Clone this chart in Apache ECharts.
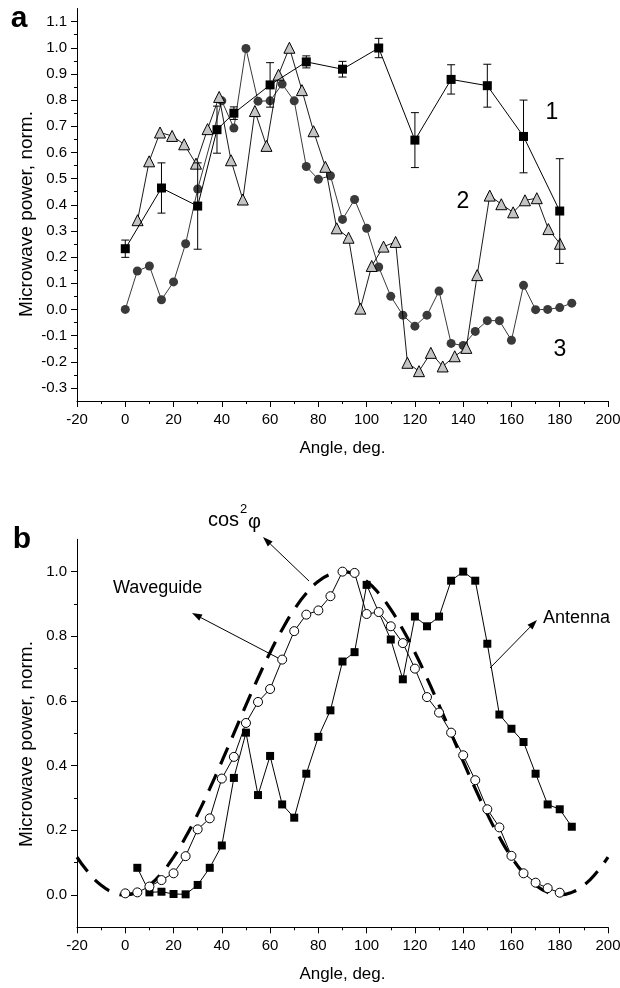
<!DOCTYPE html>
<html><head><meta charset="utf-8">
<script src="https://cdn.jsdelivr.net/npm/echarts@6/dist/echarts.min.js"></script>
<style>html,body{margin:0;padding:0;background:#fff}#c{width:620px;height:988px}</style>
</head><body><div id="c"></div>
<script>
// ---------- Panel a data ----------
const s1X = [0,15,30,38,45,60,75,90,105,120,135,150,165,180];
const s1Y = [0.232,0.464,0.395,0.687,0.750,0.858,0.946,0.918,0.999,0.647,0.879,0.855,0.661,0.376];
const s1Err = [0.033,0.096,0.165,0.090,0.024,0.085,0.023,0.030,0.037,0.105,0.056,0.082,0.139,0.200];

const s2X = [5.1,9.9,14.4,19.4,24.4,29.3,34.1,38.9,43.8,48.7,53.7,58.5,63.5,68.0,73.2,78.0,82.9,87.6,92.5,97.4,102.1,107.0,112.0,116.9,121.7,126.6,131.5,136.5,141.3,145.8,151.0,155.8,160.7,165.6,170.5,175.3,180.1];
const s2Y = [0.341,0.566,0.676,0.663,0.631,0.557,0.689,0.812,0.570,0.420,0.758,0.625,0.897,1.000,0.838,0.681,0.545,0.310,0.274,0.003,0.166,0.240,0.258,-0.204,-0.236,-0.166,-0.218,-0.179,-0.147,0.131,0.435,0.402,0.371,0.417,0.425,0.307,0.251];

const s3X = [0,5,10,15,20,25,30,40,45,50,55,60,65,70,75,80,85,90,95,100,105,110,115,120,125,130,135,140,145,150,155,160,165,170,175,180,185];
const s3Y = [0.000,0.147,0.166,0.037,0.105,0.251,0.460,0.797,0.693,0.997,0.796,0.797,0.861,0.797,0.546,0.497,0.511,0.344,0.420,0.310,0.162,0.050,-0.022,-0.064,-0.022,0.070,-0.130,-0.138,-0.084,-0.043,-0.043,-0.118,0.092,-0.001,0.000,0.007,0.024];

// ---------- Panel b data ----------
const wgX = [0,5,10,15,20,25,30,35,40,45,50,55,60,65,70,75,80,85,90,95,100,105,110,115,120,125,130,135,140,145,150,155,160,165,170,175,180];
const wgY = [0.005,0.008,0.026,0.046,0.067,0.120,0.203,0.237,0.360,0.427,0.532,0.597,0.637,0.728,0.816,0.867,0.880,0.924,1.000,0.996,0.869,0.875,0.831,0.779,0.700,0.612,0.564,0.502,0.432,0.355,0.265,0.209,0.121,0.067,0.038,0.021,0.007];

const antX = [5,10,15,20,25,30,35,40,45,50,55,60,65,70,75,80,85,90,95,100,110,115,120,125,130,135,140,145,150,155,160,165,170,175,180,185];
const antY = [0.084,0.008,0.010,0.003,0.002,0.031,0.084,0.153,0.362,0.502,0.309,0.430,0.280,0.239,0.375,0.489,0.571,0.722,0.751,0.959,0.790,0.667,0.861,0.831,0.861,0.972,1.000,0.972,0.777,0.558,0.514,0.473,0.375,0.280,0.265,0.211];

const cosX = [-20,-15,-10,-5,0,5,10,15,20,25,30,35,40,45,50,55,60,65,70,75,80,85,90,95,100,105,110,115,120,125,130,135,140,145,150,155,160,165,170,175,180,185,190,195,200];
const cosY = [0.117,0.067,0.030,0.008,0.000,0.008,0.030,0.067,0.117,0.179,0.250,0.329,0.413,0.500,0.587,0.671,0.750,0.821,0.883,0.933,0.970,0.992,1.000,0.992,0.970,0.933,0.883,0.821,0.750,0.671,0.587,0.500,0.413,0.329,0.250,0.179,0.117,0.067,0.030,0.008,0.000,0.008,0.030,0.067,0.117];

// ---------- Tick labels ----------
const xTickLabels = [-20,0,20,40,60,80,100,120,140,160,180,200];
const yTicksA = [-0.3,-0.2,-0.1,0,0.1,0.2,0.3,0.4,0.5,0.6,0.7,0.8,0.9,1.0,1.1];
const yMinorA = [-0.25,-0.15,-0.05,0.05,0.15,0.25,0.35,0.45,0.55,0.65,0.75,0.85,0.95,1.05];
const yTicksB = [0,0.2,0.4,0.6,0.8,1.0];
const yMinorB = [0.1,0.3,0.5,0.7,0.9];

const FONT = '"Liberation Sans", Arial, sans-serif';
const zip = (xs, ys) => xs.map((x, i) => [x, ys[i]]);

function xAxisCfg(gi) {
  return {
    type: 'value', gridIndex: gi, min: xTickLabels[0], max: xTickLabels[xTickLabels.length - 1], interval: 20,
    axisLine: { show: true, onZero: false, lineStyle: { color: '#000', width: 1 } },
    axisTick: { show: true, length: 6, lineStyle: { color: '#000', width: 1 } },
    minorTick: { show: true, splitNumber: 2, length: 3, lineStyle: { color: '#000', width: 1 } },
    axisLabel: { color: '#000', fontSize: 15, fontFamily: FONT, margin: 11 },
    splitLine: { show: false }, minorSplitLine: { show: false },
    name: 'Angle, deg.', nameLocation: 'middle', nameGap: 39,
    nameTextStyle: { color: '#000', fontSize: 17, fontFamily: FONT }
  };
}
function yAxisMain(gi, min, max, ticks) {
  return {
    type: 'value', gridIndex: gi, min: min, max: max, position: 'left',
    axisLine: { show: true, onZero: false, lineStyle: { color: '#000', width: 1 } },
    axisTick: { show: true, length: 6, customValues: ticks, lineStyle: { color: '#000', width: 1 } },
    axisLabel: { show: true, customValues: ticks, formatter: v => Number(v).toFixed(1), color: '#000', fontSize: 15, fontFamily: FONT, margin: 10 },
    splitLine: { show: false }
  };
}
function yAxisMinor(gi, min, max, ticks) {
  return {
    type: 'value', gridIndex: gi, min: min, max: max, position: 'left',
    axisLine: { show: false, onZero: false },
    axisTick: { show: true, length: 3, customValues: ticks, lineStyle: { color: '#000', width: 1 } },
    axisLabel: { show: false },
    splitLine: { show: false }
  };
}

function errRender(params, api) {
  const x = api.value(0), y = api.value(1), e = api.value(2);
  const top = api.coord([x, y + e]);
  const bot = api.coord([x, y - e]);
  const w = 4;
  const st = { stroke: '#000', lineWidth: 1 };
  return {
    type: 'group',
    children: [
      { type: 'line', shape: { x1: top[0], y1: top[1], x2: bot[0], y2: bot[1] }, style: st },
      { type: 'line', shape: { x1: top[0] - w, y1: top[1], x2: top[0] + w, y2: top[1] }, style: st },
      { type: 'line', shape: { x1: bot[0] - w, y1: bot[1], x2: bot[0] + w, y2: bot[1] }, style: st }
    ]
  };
}

function arrow(x1, y1, x2, y2) {
  const ang = Math.atan2(y2 - y1, x2 - x1);
  const L = 10, W = 3.5;
  const bx = x2 - L * Math.cos(ang), by = y2 - L * Math.sin(ang);
  const px = -Math.sin(ang) * W, py = Math.cos(ang) * W;
  return {
    type: 'group', silent: true,
    children: [
      { type: 'line', shape: { x1: x1, y1: y1, x2: bx, y2: by }, style: { stroke: '#000', lineWidth: 1 } },
      { type: 'polygon', shape: { points: [[x2, y2], [bx + px, by + py], [bx - px, by - py]] }, style: { fill: '#000' } }
    ]
  };
}
function txtStyle(t, x, y, size, extra, rot) {
  return { type: 'text', x: x, y: y, rotation: rot || 0, silent: true,
    style: Object.assign({ text: t, fill: '#000', fontSize: size, fontFamily: FONT, align: 'center', verticalAlign: 'middle' }, extra || {}) };
}

const chart = echarts.init(document.getElementById('c'), null, { renderer: 'canvas' });
chart.setOption({
  animation: false,
  backgroundColor: '#fff',
  textStyle: { fontFamily: FONT },
  grid: [
    { left: 77, top: 8.5, width: 531, height: 392.5, containLabel: false, outerBoundsMode: 'none' },
    { left: 77, top: 539.3, width: 531, height: 388, containLabel: false, outerBoundsMode: 'none' }
  ],
  xAxis: [xAxisCfg(0), xAxisCfg(1)],
  yAxis: [
    yAxisMain(0, -0.35, 1.15, yTicksA),
    yAxisMinor(0, -0.35, 1.15, yMinorA),
    yAxisMain(1, -0.1, 1.1, yTicksB),
    yAxisMinor(1, -0.1, 1.1, yMinorB)
  ],
  series: [
    { name: '3', type: 'line', xAxisIndex: 0, yAxisIndex: 0, data: zip(s3X, s3Y), z: 2,
      symbol: 'circle', symbolSize: 9, showSymbol: true,
      itemStyle: { color: '#3a3a3a', borderWidth: 0 }, lineStyle: { color: '#3a3a3a', width: 1 } },
    { name: '2', type: 'line', xAxisIndex: 0, yAxisIndex: 0, data: zip(s2X, s2Y), z: 3,
      symbol: 'triangle', symbolSize: 11, showSymbol: true,
      itemStyle: { color: '#c4c4c4', borderColor: '#000', borderWidth: 1 }, lineStyle: { color: '#000', width: 0.9 } },
    { name: '1', type: 'line', xAxisIndex: 0, yAxisIndex: 0, data: zip(s1X, s1Y), z: 5,
      symbol: 'rect', symbolSize: 9, showSymbol: true,
      itemStyle: { color: '#000' }, lineStyle: { color: '#000', width: 1 } },
    { name: 'err', type: 'custom', xAxisIndex: 0, yAxisIndex: 0, z: 4,
      data: s1X.map((x, i) => [x, s1Y[i], s1Err[i]]), renderItem: errRender },
    { name: 'cos2', type: 'line', xAxisIndex: 1, yAxisIndex: 2, data: zip(cosX, cosY), z: 2,
      smooth: true, showSymbol: false, symbol: 'none',
      lineStyle: { color: '#000', width: 3.2, type: [18, 11], cap: 'butt' } },
    { name: 'Antenna', type: 'line', xAxisIndex: 1, yAxisIndex: 2, data: zip(antX, antY), z: 3,
      symbol: 'rect', symbolSize: 8, showSymbol: true,
      itemStyle: { color: '#000' }, lineStyle: { color: '#000', width: 1 } },
    { name: 'Waveguide', type: 'line', xAxisIndex: 1, yAxisIndex: 2, data: zip(wgX, wgY), z: 4,
      symbol: 'circle', symbolSize: 9, showSymbol: true,
      itemStyle: { color: '#fff', borderColor: '#000', borderWidth: 1 }, lineStyle: { color: '#000', width: 1 } }
  ],
  graphic: [
    txtStyle('a', 19, 19, 30, { fontWeight: 'bold' }),
    txtStyle('b', 22, 540, 30, { fontWeight: 'bold' }),
    txtStyle('Microwave power, norm.', 27, 214, 19, {}, Math.PI / 2),
    txtStyle('Microwave power, norm.', 27, 744, 19, {}, Math.PI / 2),
    txtStyle('1', 552, 113, 23),
    txtStyle('2', 463, 202, 23),
    txtStyle('3', 560, 350, 23),
    txtStyle('cos', 208, 520, 20, { align: 'left' }),
    txtStyle('2', 240, 509, 13, { align: 'left' }),
    txtStyle('\u03c6', 248, 522, 20, { align: 'left' }),
    txtStyle('Waveguide', 113, 588, 18, { align: 'left' }),
    txtStyle('Antenna', 543, 618, 18, { align: 'left' }),
    arrow(309, 581, 263, 537),
    arrow(280, 659, 192, 613),
    arrow(490, 668, 537, 620)
  ]
});
</script></body></html>
